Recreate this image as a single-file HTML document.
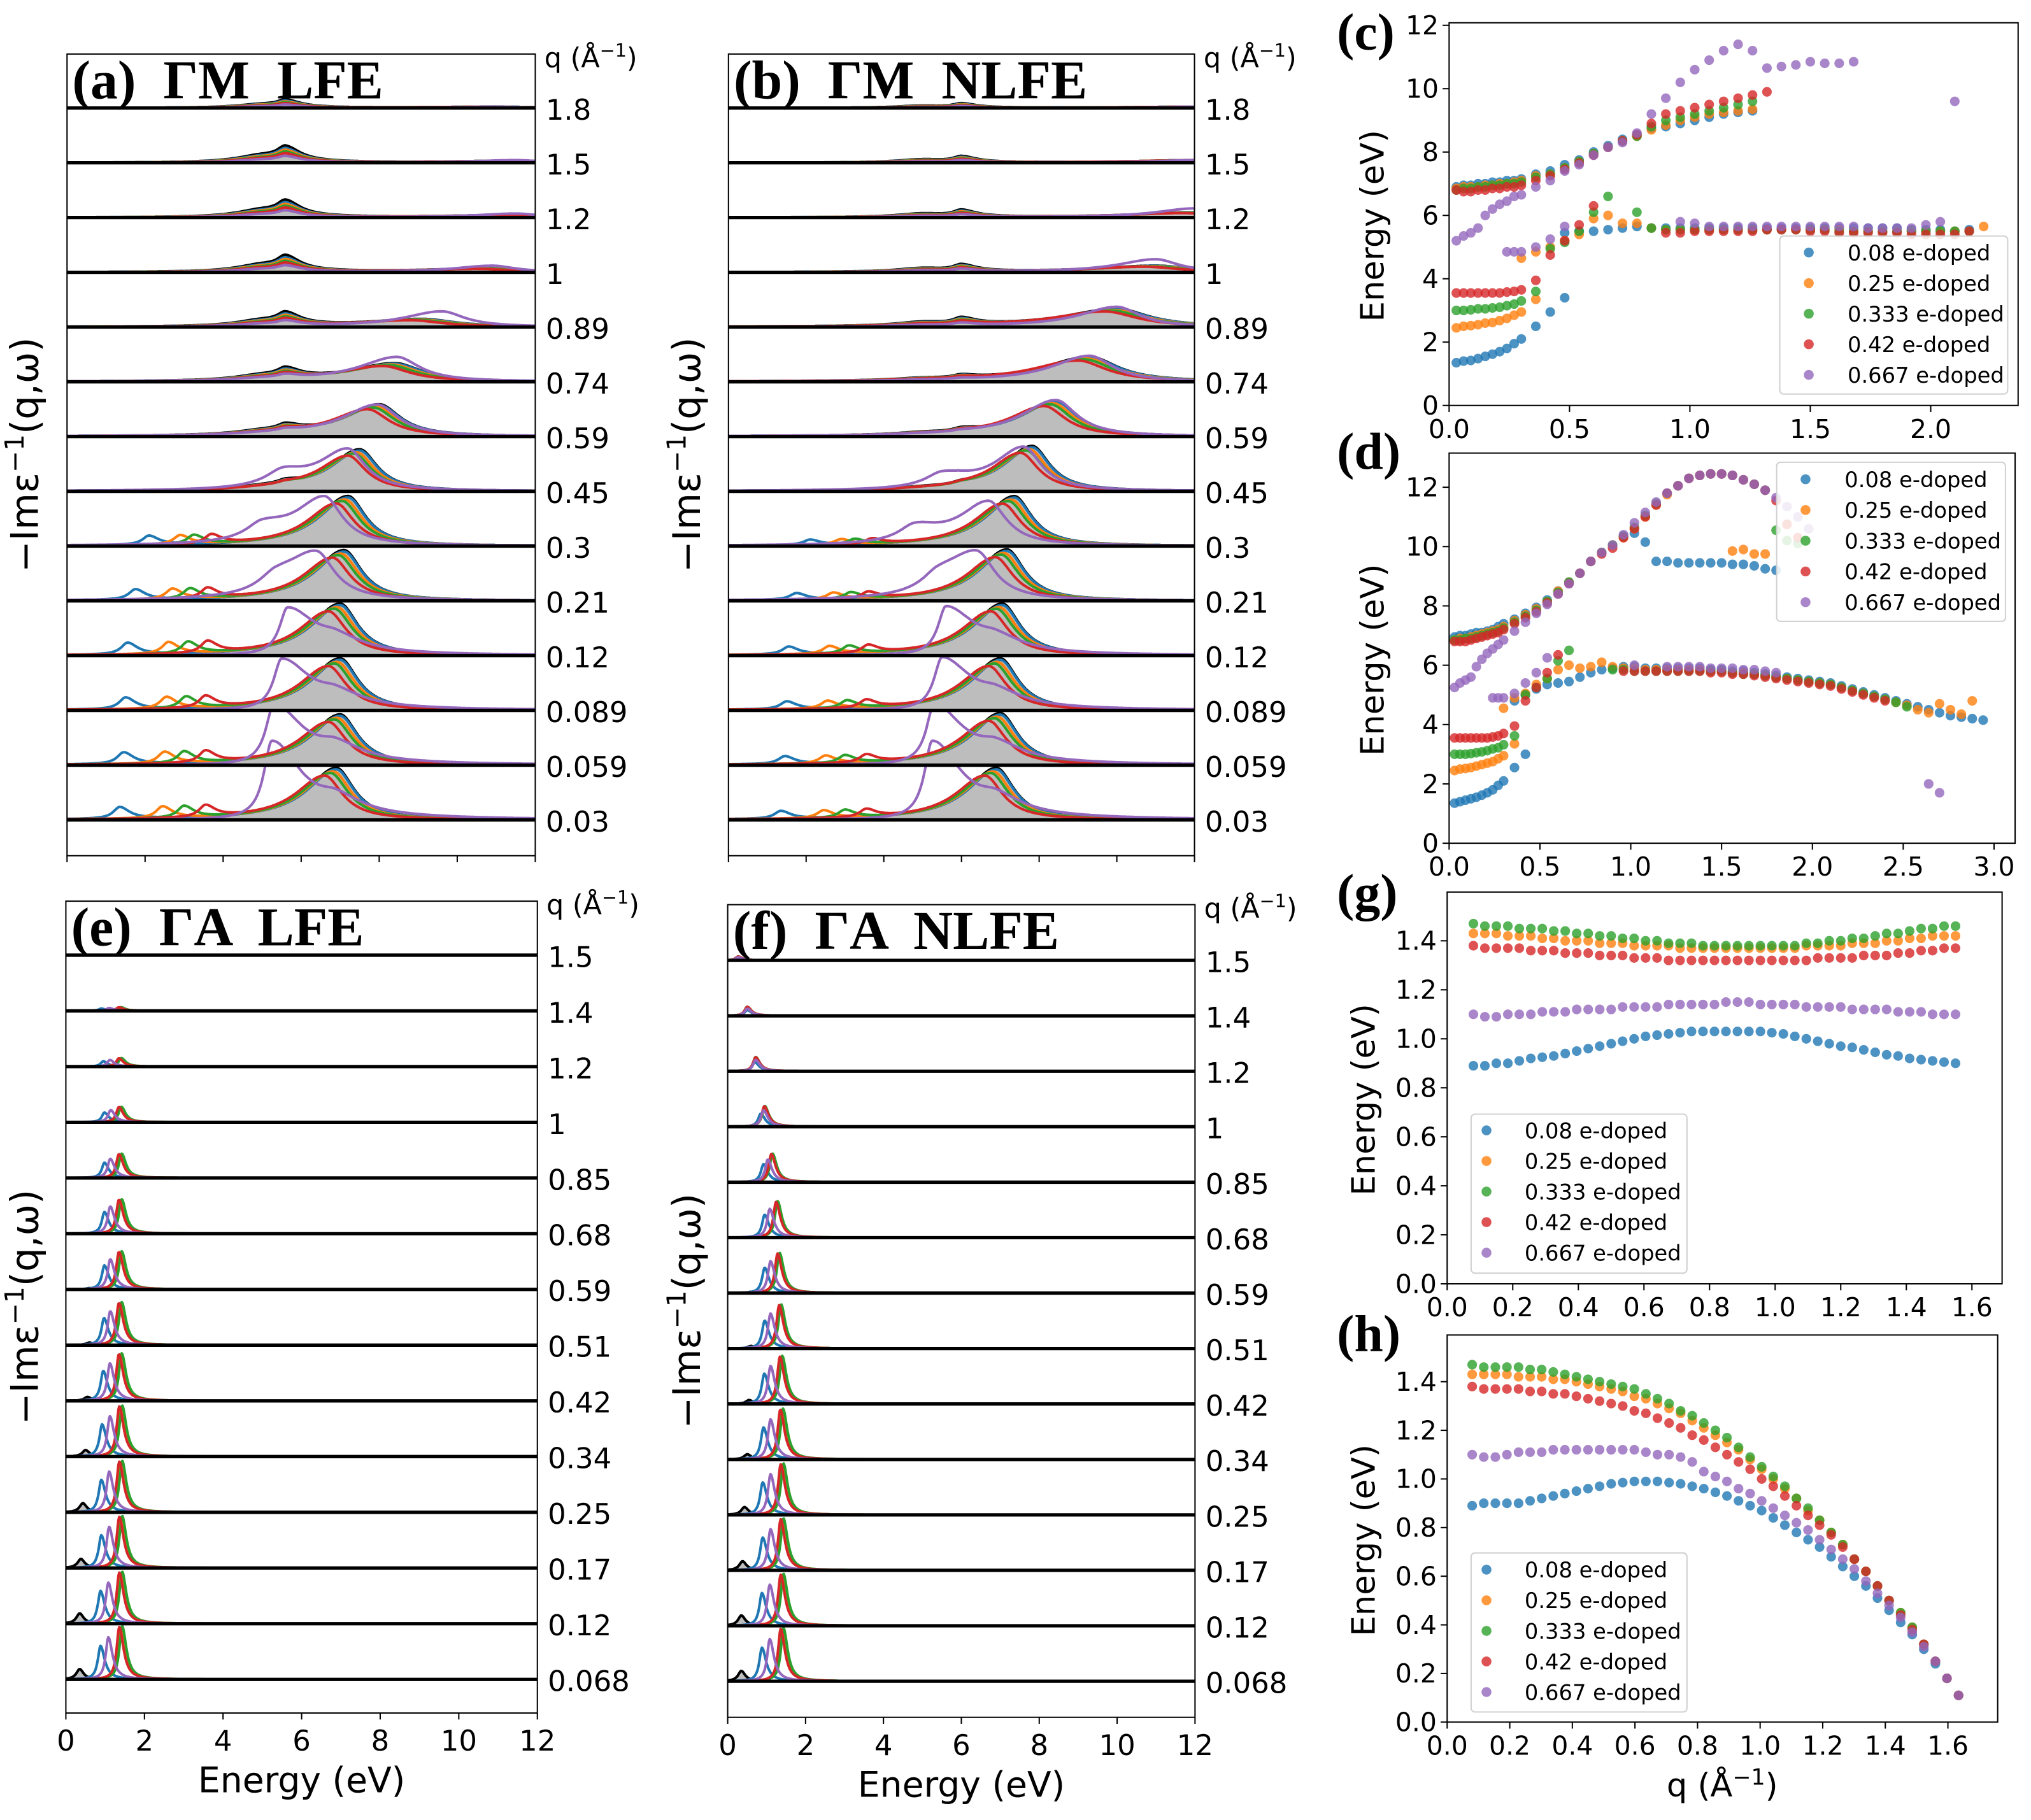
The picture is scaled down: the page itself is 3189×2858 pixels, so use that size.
<!DOCTYPE html>
<html><head><meta charset="utf-8"><title>Loss spectra and plasmon dispersion</title>
<style>
html,body{margin:0;padding:0;background:#fff;}
svg{display:block;}
text{font-family:"DejaVu Sans","Liberation Sans",sans-serif;fill:#000;}
.ttl{font-family:"Liberation Serif",serif;font-weight:bold;white-space:pre;}
</style></head>
<body>
<svg id="fig" xmlns="http://www.w3.org/2000/svg" width="3189" height="2858" viewBox="0 0 1560.2 1398.2" preserveAspectRatio="none"></svg>
<script>
// ---------- shared ----------
const COLORS=['#1f77b4','#ff7f0e','#2ca02c','#d62728','#9467bd'];
const DOPING=['0.08 e-doped','0.25 e-doped','0.333 e-doped','0.42 e-doped','0.667 e-doped'];

// ---------- panel (a) ΓM LFE, rows bottom->top ----------
const aQ=['0.03','0.059','0.089','0.12','0.21','0.3','0.45','0.59','0.74','0.89','1','1.2','1.5','1.8'];
const aMainPos=[6.9,7.0,7.0,7.0,7.1,7.2,7.5,8.0,8.4,9.1,10.8,11.5,11.5,11];
const aMainH=[40,39,40,40,39,38.5,32,24.5,14,6,3,2,1.5,1];
const aWidth=[1,1,1,1,1,1,1,1.2,1.5,1.8,2,2,2,2];
const aBumpH=[0,0,0,0,0,0,5,8,11,13.5,16,16.6,16,8];
const aLowBlue=[1.35,1.45,1.5,1.55,1.75,2.1];
const aLowOrange=[2.45,2.5,2.55,2.6,2.7,2.9];
const aLowGreen=[3.0,3.0,3.05,3.1,3.15,3.25];
const aLowRed=[3.55,3.55,3.55,3.6,3.6,3.7];
const aLowH=[9,9,9,9,8,7];
const aPurplePos=[5.25,5.3,5.5,5.65,6.4,6.6,7.2,7.95,8.45,9.6,10.9,11.5,11.5,11];
const aPurpleH=[60,46,39,36,34,36,31,24.5,19,12,5,3,2,1];
const aPurple2Pos=[6.9,6.9,6.9,6.9,5.35,5.0,5.5];
const aPurple2H=[10,10,8,8,12,12,10];

// ---------- panel (b) ΓM NLFE ----------
const bQ=aQ;
const bMainPos=[6.9,7.0,7.0,7.05,7.17,7.36,7.82,8.43,9.3,10.0,11.0,12,12,12];
const bMainH=[40,40,40,40,39.5,38.4,34.7,27.5,19.2,14,5,4,2,1];
const bWidth=[1,1,1,1,1,1,1,1.2,1.6,1.8,2,2,2,2];
const bBumpH=[0,0,0,0,0,0,3,4,4,8,8,8,7,5];
const bLowH=[6,6,6,6,5,4];
const bPurplePos=[5.25,5.3,5.5,5.6,6.4,6.7,7.6,8.43,9.3,10.0,11.0,12,12,12];
const bPurpleH=[60,46,40,37,34,33,33,28,20,15.5,10,7,2,1];
const bPurple2Pos=[6.9,6.9,6.9,6.9,5.4,4.8,5.5];
const bPurple2H=[10,10,8,8,12,12,10];

// colored main-peak offsets (blue, orange, green, red)
const mainShift=[0,-0.08,-0.15,-0.3];
const mainRel=[0.97,0.93,0.9,0.85];
const bumpRel=[0.85,0.75,0.65,0.55,0.4];

// ---------- panel (e) ΓA LFE ----------
const eQ=['0.068','0.12','0.17','0.25','0.34','0.42','0.51','0.59','0.68','0.85','1','1.2','1.4','1.5'];
const eH=[41,40,40,39.6,39.3,36.5,33,29.3,26.5,18.7,11.9,6.5,2.8,0];
const eBlue=[0.88,0.88,0.9,0.9,0.92,0.95,0.97,0.98,0.98,0.98,0.98,0.95,0.9,0.9];
const eOrange=[1.39,1.39,1.39,1.39,1.39,1.38,1.38,1.38,1.38,1.38,1.38,1.38,1.38,1.38];
const eGreen=[1.43,1.43,1.43,1.43,1.43,1.42,1.42,1.42,1.42,1.42,1.41,1.41,1.4,1.4];
const eRed=[1.36,1.36,1.36,1.36,1.36,1.35,1.35,1.35,1.35,1.35,1.35,1.35,1.35,1.35];
const ePurple=[1.08,1.08,1.1,1.1,1.12,1.12,1.13,1.13,1.13,1.13,1.14,1.12,1.1,1.1];
const eBlackPos=[0.35,0.35,0.38,0.43,0.5,0.55,0.6,0.6,0.6,0.6,0.6,0.6,0.6,0.6];
const eBlackH=[8,8,7,7,5,3,2,1,0,0,0,0,0,0];

// ---------- panel (f) ΓA NLFE ----------
const fQ=eQ;
const fH=[41,40,40,39.6,39,37,34,31,28,22,16,11,7,3];
const fBlue=[0.88,0.88,0.9,0.9,0.92,0.94,0.95,0.95,0.95,0.92,0.85,0.7,0.5,0.27];
const fOrange=[1.39,1.39,1.39,1.39,1.38,1.37,1.35,1.31,1.26,1.14,0.95,0.72,0.5,0.27];
const fGreen=[1.43,1.43,1.43,1.43,1.42,1.4,1.37,1.33,1.28,1.15,0.95,0.72,0.5,0.27];
const fRed=[1.36,1.36,1.36,1.36,1.35,1.34,1.32,1.28,1.24,1.12,0.94,0.72,0.5,0.27];
const fPurple=[1.08,1.08,1.1,1.1,1.1,1.1,1.1,1.1,1.08,1.03,0.92,0.72,0.5,0.27];
const fBlackPos=[0.35,0.35,0.38,0.43,0.5,0.55,0.6,0.6,0.6,0.6,0.6,0.6,0.6,0.6];
const fBlackH=[8,8,7,6,4,3,2,1,0,0,0,0,0,0];
const efRel=[0.63,0.95,1,0.98,0.79];

// ---------- panel (c) ----------
const cQ=[0.03,0.06,0.09,0.12,0.15,0.18,0.21,0.24,0.27,0.30,0.36,0.42,0.48,0.54,0.60,0.66,0.72,0.78,0.84,0.90,0.96,1.02,1.08,1.14,1.20,1.26,1.32,1.38,1.44,1.50,1.56,1.62,1.68,1.74,1.80,1.86,1.92,1.98,2.04,2.10,2.16,2.22];
const N=null;
const cHiBlue=[6.9,6.95,6.95,7.0,7.0,7.05,7.05,7.1,7.1,7.15,7.3,7.4,7.6,7.75,8.0,8.2,8.4,8.55,8.75,8.8,8.9,9.0,9.1,9.2,9.25,9.3];
const cHiOrange=[6.85,6.9,6.9,6.9,6.95,6.95,7.0,7.0,7.05,7.1,7.25,7.3,7.5,7.7,7.95,8.15,8.35,8.5,8.7,8.85,9.0,9.1,9.2,9.25,9.3,9.35];
const cHiGreen=[6.8,6.85,6.85,6.9,6.9,6.95,6.95,7.0,7.0,7.05,7.2,7.3,7.5,7.7,7.95,8.15,8.35,8.5,8.8,9.0,9.1,9.2,9.3,9.4,9.5,9.6];
const cHiRed=[6.8,6.75,6.75,6.8,6.8,6.85,6.85,6.9,6.9,6.95,7.1,7.25,7.45,7.65,7.9,8.15,8.35,8.55,8.9,9.2,9.3,9.4,9.5,9.6,9.7,9.8,9.9];
const cHiPurple=[5.2,5.35,5.45,5.6,6.0,6.2,6.35,6.45,6.6,6.65,6.9,7.1,7.4,7.6,7.9,8.15,8.3,8.6,9.2,9.7,10.2,10.6,10.9,11.2,11.4,11.2,10.65,10.7,10.75,10.85,10.8,10.8,10.85,N,N,N,N,N,N,9.6];
const cLoBlue=[1.35,1.4,1.42,1.48,1.55,1.62,1.7,1.8,1.95,2.1,2.5,2.95,3.4];
const cLoOrange=[2.45,2.5,2.52,2.55,2.6,2.62,2.68,2.75,2.85,2.95,3.35];
const cLoGreen=[3.0,3.0,3.02,3.05,3.05,3.08,3.1,3.15,3.2,3.3,3.6];
const cLoRed=[3.55,3.55,3.55,3.55,3.55,3.55,3.55,3.58,3.6,3.65,3.95];
const cLoPurple=[];
const cMidBlue=[N,N,N,N,N,N,N,N,N,N,N,N,5.45,5.5,5.5,5.55,5.6,5.65,5.6,5.6,5.6,5.6,5.6,5.6,5.6,5.6,5.6,5.6,5.6,5.6,5.6,5.6,5.6,5.6,5.6,5.6,5.55,5.55,5.55,5.5,5.55];
const cMidOrange=[N,N,N,N,N,N,N,N,N,4.65,4.85,5.0,5.2,5.4,5.9,6.0,5.75,5.75,5.6,5.55,5.55,5.55,5.55,5.55,5.55,5.55,5.55,5.55,5.55,5.55,5.55,5.55,5.5,5.5,5.5,5.5,5.5,5.5,5.5,5.5,5.5,5.65];
const cMidGreen=[N,N,N,N,N,N,N,N,N,N,N,4.95,5.15,5.5,6.1,6.6,N,6.1,5.6,5.55,5.55,5.55,5.55,5.55,5.55,5.55,5.55,5.55,5.55,5.55,5.55,5.5,5.5,5.5,5.5,5.5,5.5,5.5,5.5,5.5,5.5];
const cMidRed=[N,N,N,N,N,N,N,N,N,N,N,4.75,5.2,5.7,6.3,N,N,N,N,5.45,5.45,5.5,5.5,5.5,5.5,5.5,5.55,5.55,5.55,5.5,5.5,5.45,5.45,5.45,5.45,5.45,5.4,5.4,5.4,5.4,5.5];
const cMidPurple=[N,N,N,N,N,N,N,4.85,4.85,4.85,5.0,5.25,5.65,N,N,N,N,N,N,N,5.8,5.75,5.65,5.65,5.65,5.65,5.65,5.65,5.65,5.65,5.65,5.65,5.65,5.6,5.6,5.6,5.6,5.7,5.8];

// ---------- panel (d) ----------
const dQ=[0.03,0.06,0.09,0.12,0.15,0.18,0.21,0.24,0.27,0.30,0.36,0.42,0.48,0.54,0.60,0.66,0.72,0.78,0.84,0.90,0.96,1.02,1.08,1.14,1.20,1.26,1.32,1.38,1.44,1.50,1.56,1.62,1.68,1.74,1.80,1.86,1.92,1.98,2.04,2.10,2.16,2.22,2.28,2.34,2.40,2.46,2.52,2.58,2.64,2.70,2.76,2.82,2.88,2.94];
const dHiBlue=[6.95,7.0,7.0,7.05,7.1,7.1,7.15,7.2,7.3,7.4,7.55,7.75,7.95,8.2,8.5,8.8,9.1,9.5,9.8,10.05,10.35,10.45,10.15,9.5,9.5,9.45,9.45,9.45,9.45,9.45,9.4,9.4,9.35,9.25,9.2];
const dHiOrange=[6.85,6.9,6.9,6.95,7.0,7.05,7.1,7.15,7.2,7.3,7.5,7.7,7.9,8.15,8.5,8.8,9.1,9.5,9.8,10.05,10.3,10.6,11.0,11.4,11.75,12.05,12.3,12.4,12.45,12.45,9.85,9.9,9.75,9.75,N,10.75,10.3];
const dHiGreen=[6.85,6.85,6.9,6.9,6.95,7.0,7.05,7.1,7.15,7.25,7.45,7.65,7.85,8.15,8.45,8.8,9.1,9.5,9.8,10.05,10.35,10.65,11.05,11.45,11.8,12.05,12.3,12.4,12.45,12.45,12.4,12.25,12.1,11.9,10.55,10.2,10.1];
const dHiRed=[6.8,6.8,6.8,6.85,6.9,6.95,7.0,7.05,7.1,7.2,7.4,7.6,7.8,8.1,8.4,8.75,9.1,9.5,9.75,9.95,10.3,10.6,11.0,11.4,11.8,12.05,12.3,12.4,12.45,12.45,12.4,12.25,12.1,11.9,11.55,10.75,10.3];
const dHiPurple=[5.25,5.4,5.5,5.6,5.95,6.2,6.4,6.55,6.7,6.85,7.15,7.45,7.75,8.05,8.4,8.75,9.1,9.5,9.8,10.05,10.4,10.8,11.15,11.5,11.8,12.05,12.3,12.4,12.45,12.45,12.4,12.25,12.1,11.9,11.65,11.35,11.0,10.6];
const dLoBlue=[1.35,1.4,1.45,1.5,1.55,1.62,1.7,1.8,1.95,2.1,2.55,3.0];
const dLoOrange=[2.45,2.5,2.52,2.55,2.6,2.65,2.7,2.75,2.85,2.95,3.35];
const dLoGreen=[3.0,3.0,3.0,3.02,3.05,3.08,3.12,3.18,3.22,3.32,3.62];
const dLoRed=[3.55,3.55,3.55,3.55,3.55,3.55,3.55,3.58,3.62,3.7,3.95];
const dLoPurple=[N,N,N,N,N,N,N,N,N,N,N,N,N,N,N,N,N,N,N,N,N,N,N,N,N,N,N,N,N,N,N,N,N,N,N,N,N,N,N,N,N,N,N,N,N,N,N,N,2.0,1.7];
const dMidBlue=[N,N,N,N,N,N,N,N,N,N,4.8,5.0,5.2,5.35,5.4,5.45,5.6,5.75,5.85,5.9,5.95,5.95,5.9,5.9,5.9,5.9,5.9,5.9,5.85,5.85,5.8,5.8,5.75,5.7,5.65,5.6,5.55,5.5,5.45,5.4,5.3,5.2,5.1,5.0,4.9,4.8,4.7,4.6,4.5,4.4,4.3,4.25,4.2,4.15];
const dMidOrange=[N,N,N,N,N,N,N,N,N,4.55,4.9,5.05,5.35,5.55,5.85,6.0,5.9,5.95,6.1,5.95,5.9,5.9,5.85,5.85,5.85,5.85,5.85,5.85,5.8,5.8,5.75,5.75,5.7,5.65,5.6,5.55,5.5,5.45,5.4,5.35,5.25,5.15,5.05,4.95,4.85,4.75,4.65,4.5,4.4,4.7,4.5,4.35,4.8];
const dMidGreen=[N,N,N,N,N,N,N,N,N,N,N,5.0,5.25,5.55,6.15,6.5,N,N,N,5.85,5.85,5.8,5.8,5.8,5.8,5.8,5.8,5.8,5.8,5.8,5.75,5.7,5.7,5.65,5.6,5.55,5.5,5.45,5.4,5.35,5.25,5.15,5.05,4.95,4.85,4.75,4.6];
const dMidRed=[N,N,N,N,N,N,N,N,N,N,N,4.8,5.25,5.75,6.35,N,N,N,N,N,5.8,5.8,5.8,5.8,5.8,5.8,5.8,5.8,5.75,5.75,5.7,5.7,5.65,5.6,5.55,5.5,5.45,5.4,5.35,5.3,5.2,5.1,5.0,4.9,4.8];
const dMidPurple=[N,N,N,N,N,N,N,4.9,4.9,4.9,5.05,5.4,5.75,6.25,N,N,N,N,N,N,N,6.0,N,N,5.95,5.95,5.95,5.95,5.9,5.9,5.9,5.85,5.85,5.8,5.75];

// ---------- panel (g) ----------
const gQ=[0.08,0.115,0.15,0.185,0.22,0.255,0.29,0.325,0.36,0.395,0.43,0.465,0.5,0.535,0.57,0.605,0.64,0.675,0.71,0.745,0.78,0.815,0.85,0.885,0.92,0.955,0.99,1.025,1.06,1.095,1.13,1.165,1.2,1.235,1.27,1.305,1.34,1.375,1.41,1.445,1.48,1.515,1.55];
const gBlue=[0.89,0.89,0.90,0.90,0.91,0.92,0.925,0.93,0.94,0.95,0.96,0.97,0.98,0.99,1.0,1.01,1.015,1.02,1.025,1.03,1.03,1.03,1.03,1.03,1.03,1.03,1.025,1.02,1.01,1.0,0.99,0.98,0.97,0.965,0.955,0.945,0.935,0.93,0.92,0.915,0.91,0.905,0.90];
const gOrange=[1.43,1.43,1.43,1.42,1.42,1.42,1.41,1.41,1.40,1.40,1.40,1.39,1.39,1.39,1.38,1.38,1.38,1.38,1.37,1.37,1.37,1.37,1.37,1.37,1.37,1.37,1.37,1.37,1.37,1.38,1.38,1.38,1.38,1.39,1.39,1.39,1.40,1.40,1.41,1.41,1.42,1.42,1.42];
const gGreen=[1.47,1.46,1.46,1.46,1.45,1.45,1.45,1.44,1.44,1.43,1.43,1.42,1.42,1.41,1.41,1.40,1.40,1.39,1.39,1.39,1.38,1.38,1.38,1.38,1.38,1.38,1.38,1.38,1.38,1.39,1.39,1.40,1.40,1.41,1.41,1.42,1.43,1.43,1.44,1.45,1.45,1.46,1.46];
const gRed=[1.38,1.37,1.37,1.37,1.37,1.36,1.36,1.36,1.35,1.35,1.35,1.34,1.34,1.34,1.33,1.33,1.33,1.32,1.32,1.32,1.32,1.32,1.32,1.32,1.32,1.32,1.32,1.32,1.32,1.32,1.33,1.33,1.33,1.33,1.34,1.34,1.34,1.35,1.35,1.36,1.36,1.37,1.37];
const gPurple=[1.10,1.09,1.09,1.10,1.10,1.10,1.11,1.11,1.11,1.12,1.12,1.12,1.12,1.13,1.13,1.13,1.13,1.14,1.14,1.14,1.14,1.14,1.15,1.15,1.15,1.14,1.14,1.14,1.14,1.13,1.13,1.13,1.13,1.12,1.12,1.12,1.12,1.11,1.11,1.11,1.10,1.10,1.10];

// ---------- panel (h) ----------
const hQ=[0.08,0.117,0.154,0.191,0.228,0.265,0.302,0.339,0.376,0.413,0.45,0.487,0.524,0.561,0.598,0.635,0.672,0.709,0.746,0.783,0.82,0.857,0.894,0.931,0.968,1.005,1.042,1.079,1.116,1.153,1.19,1.227,1.264,1.301,1.338,1.375,1.412,1.449,1.486,1.523,1.56,1.597,1.634];
const hBlue=[0.89,0.90,0.90,0.90,0.90,0.91,0.92,0.93,0.94,0.95,0.96,0.97,0.98,0.985,0.99,0.99,0.99,0.985,0.98,0.97,0.96,0.945,0.93,0.91,0.89,0.87,0.84,0.81,0.78,0.75,0.72,0.68,0.64,0.60,0.56,0.51,0.46,0.41,0.36,0.30,0.24,0.18,0.11];
const hOrange=[1.43,1.43,1.43,1.43,1.42,1.42,1.42,1.41,1.41,1.40,1.39,1.38,1.37,1.36,1.34,1.33,1.31,1.29,1.27,1.24,1.21,1.18,1.15,1.12,1.08,1.04,1.00,0.96,0.92,0.87,0.83,0.78,0.73,0.67,0.62,0.56,0.50,0.45,0.39,0.32,0.25,0.18,0.11];
const hGreen=[1.47,1.46,1.46,1.46,1.46,1.45,1.45,1.44,1.43,1.42,1.41,1.40,1.39,1.38,1.37,1.35,1.33,1.31,1.28,1.26,1.23,1.20,1.17,1.13,1.09,1.05,1.01,0.97,0.92,0.88,0.83,0.78,0.73,0.67,0.62,0.56,0.50,0.45,0.39,0.32,0.25,0.18,0.11];
const hRed=[1.38,1.37,1.37,1.37,1.37,1.36,1.36,1.35,1.35,1.34,1.33,1.32,1.31,1.30,1.28,1.27,1.25,1.23,1.21,1.18,1.16,1.13,1.10,1.07,1.04,1.00,0.97,0.93,0.89,0.85,0.81,0.77,0.72,0.67,0.62,0.56,0.50,0.44,0.38,0.32,0.25,0.18,0.11];
const hPurple=[1.10,1.09,1.09,1.10,1.11,1.11,1.11,1.12,1.12,1.12,1.12,1.12,1.12,1.12,1.12,1.11,1.10,1.10,1.09,1.07,1.03,1.01,0.99,0.96,0.94,0.91,0.88,0.85,0.82,0.79,0.75,0.71,0.67,0.63,0.58,0.53,0.48,0.43,0.37,0.31,0.25,0.18,0.11];

// ================= drawing =================
const NS='http://www.w3.org/2000/svg';
const svg=document.getElementById('fig');
function mk(tag,attrs,parent){const e=document.createElementNS(NS,tag);for(const k in attrs)e.setAttribute(k,attrs[k]);(parent||svg).appendChild(e);return e;}
function txt(parent,x,y,s,size,anchor,extra){const t=mk('text',Object.assign({x:x,y:y,'font-size':size,'text-anchor':anchor||'start'},extra||{}),parent);t.textContent=s;return t;}
function lor(x,p,h,gl,gr){if(p==null||!h)return 0;const g=x<p?gl:gr;const d=(x-p)/g;return h/(1+d*d);}
const XS=[];for(let i=0;i<=600;i++)XS.push(i*0.02);
let clipId=0;

function qLabelHeader(g,x,y){
  const t=mk('text',{x:x,y:y,'font-size':21},g);
  
  
  t.innerHTML='q (Å<tspan dy="-8" font-size="14">−1</tspan><tspan dy="8">)</tspan>';
}
function yLabelSpectra(g,x,y){
  const t=mk('text',{x:x,y:y,'font-size':29,'text-anchor':'middle',transform:'rotate(-90 '+x+' '+y+')'},g);
  
  
  t.innerHTML='−Imε<tspan dy="-11" font-size="20">−1</tspan><tspan dy="11">(q,ω)</tspan>';
}

function spectraPanel(cfg){
  const g=mk('g',{});
  
  
  const sx=v=>cfg.x0+v/12*(cfg.x1-cfg.x0);
  const cid='clip'+(clipId++);
  const cp=mk('clipPath',{id:cid},g);
  mk('rect',{x:cfg.x0,y:cfg.top,width:cfg.x1-cfg.x0,height:cfg.bottom-cfg.top},cp);
  const plot=mk('g',{'clip-path':'url(#'+cid+')'},g);
  const n=cfg.q.length;
  for(let i=0;i<n;i++){
    const base=cfg.base0-i*cfg.step;
    const row=mk('g',{},plot);
    
    
    const curves=cfg.curves(i);
    curves.forEach((peaks,k)=>{
      let d='';
      XS.forEach((x,j)=>{let y=0;peaks.forEach(p=>{y+=lor(x,p[0],p[1],p[2],p[3]);});d+=(j?'L':'M')+sx(x).toFixed(1)+' '+(base-y).toFixed(1);});
      if(k===0){
        const f=mk('path',{d:d+'L'+sx(12)+' '+base+'L'+sx(0)+' '+base+'Z',fill:'#bdbdbd',stroke:'none'},row);
        
        
      }
      const l=mk('path',{d:d,fill:'none',stroke:k===0?'#000':COLORS[k-1],'stroke-width':2,'stroke-linejoin':'round'},row);
      
      
    });
    const bl=mk('line',{x1:cfg.x0,x2:cfg.x1,y1:base,y2:base,stroke:'#000','stroke-width':2.6},plot);
    
    
    const lb=txt(g,cfg.x1+8,base+9,cfg.q[i],22);
    
    
  }
  const fr=mk('rect',{x:cfg.x0,y:cfg.top,width:cfg.x1-cfg.x0,height:cfg.bottom-cfg.top,fill:'none',stroke:'#000','stroke-width':1},g);
  
  
  for(let e=0;e<=12;e+=2){
    const tk=mk('line',{x1:sx(e),x2:sx(e),y1:cfg.bottom,y2:cfg.bottom+5,stroke:'#000','stroke-width':1},g);
    
    
    if(cfg.tickLabels){
      const tl=txt(g,sx(e),cfg.bottom+29,String(e),22,'middle');
      
      
    }
  }
  if(cfg.tickLabels){
    const xt=txt(g,(cfg.x0+cfg.x1)/2,cfg.bottom+61,'Energy (eV)',27,'middle');
    
    
  }
  const tt=mk('text',{x:cfg.x0+4,y:cfg.top+34,'font-size':42,class:'ttl'},g);
  
  
  tt.textContent=cfg.title;
  qLabelHeader(g,cfg.x1+7,cfg.top+10);
  yLabelSpectra(g,cfg.ylx,(cfg.top+cfg.bottom)/2);
}

function gmCurves(P){
  return function(i){
    const w=P.width[i];
    const out=[];
    const bump=(rel)=>[[P.bumpPos,P.bumpH[i]*0.6*rel,0.25,0.45],[5.0,P.bumpH[i]*0.35*rel,0.8,0.8]];
    out.push([[P.mainPos[i],P.mainH[i],0.9*w,0.55*w]].concat(bump(1)));
    for(let k=0;k<4;k++){
      const pk=[[P.mainPos[i]+mainShift[k],P.mainH[i]*mainRel[k],0.9*w,0.55*w]].concat(bump(bumpRel[k]));
      const lp=P.low[k][i];
      if(lp!=null&&P.lowH[i])pk.push([lp,P.lowH[i],0.2,0.3]);
      out.push(pk);
    }
    const sharp=i<4;
    const pw=Math.min(w,1.3);
    const pp=[[P.purplePos[i],P.purpleH[i],sharp?0.25:0.9*pw,sharp?0.9:0.55*pw]].concat(bump(bumpRel[4]));
    if(P.p2Pos[i]!=null)pp.push([P.p2Pos[i],P.p2H[i],0.5,0.8]);
    out.push(pp);
    return out;
  };
}
function gaCurves(P){
  return function(i){
    const out=[[[P.blackPos[i],P.blackH[i],0.1,0.12]]];
    P.pos.forEach((arr,k)=>{out.push([[arr[i],P.h[i]*efRel[k],0.08,0.13]]);});
    return out;
  };
}

spectraPanel({name:'panel-a-gm-lfe',title:'(a)  ΓM  LFE',q:aQ,x0:51.5,x1:411.2,top:41.5,bottom:657.4,base0:629.9,step:42.07,ylx:29,tickLabels:false,
  curves:gmCurves({width:aWidth,mainPos:aMainPos,mainH:aMainH,bumpPos:5.6,bumpH:aBumpH,low:[aLowBlue,aLowOrange,aLowGreen,aLowRed],lowH:aLowH,purplePos:aPurplePos,purpleH:aPurpleH,p2Pos:aPurple2Pos,p2H:aPurple2H})});
spectraPanel({name:'panel-b-gm-nlfe',title:'(b)  ΓM  NLFE',q:bQ,x0:559.6,x1:917.6,top:41.5,bottom:657.4,base0:629.9,step:42.07,ylx:537.6,tickLabels:false,
  curves:gmCurves({width:bWidth,mainPos:bMainPos,mainH:bMainH,bumpPos:6.0,bumpH:bBumpH,low:[aLowBlue,aLowOrange,aLowGreen,aLowRed],lowH:bLowH,purplePos:bPurplePos,purpleH:bPurpleH,p2Pos:bPurple2Pos,p2H:bPurple2H})});
spectraPanel({name:'panel-e-ga-lfe',title:'(e)  ΓA  LFE',q:eQ,x0:50.6,x1:412.8,top:692.3,bottom:1316,base0:1290.2,step:42.8,ylx:29,tickLabels:true,
  curves:gaCurves({blackPos:eBlackPos,blackH:eBlackH,pos:[eBlue,eOrange,eGreen,eRed,ePurple],h:eH})});
spectraPanel({name:'panel-f-ga-nlfe',title:'(f)  ΓA  NLFE',q:fQ,x0:559,x1:918,top:695,bottom:1319.3,base0:1291.6,step:42.6,ylx:537.6,tickLabels:true,
  curves:gaCurves({blackPos:fBlackPos,blackH:fBlackH,pos:[fBlue,fOrange,fGreen,fRed,fPurple],h:fH})});

// ---------- scatter panels ----------
function scatterPanel(cfg){
  const g=mk('g',{});
  
  
  const sx=v=>cfg.x0+(v-cfg.xr[0])/(cfg.xr[1]-cfg.xr[0])*(cfg.x1-cfg.x0);
  const sy=v=>cfg.bottom-(v-cfg.yr[0])/(cfg.yr[1]-cfg.yr[0])*(cfg.bottom-cfg.top);
  cfg.series.forEach((branches,k)=>{
    const sg=mk('g',{fill:COLORS[k],'fill-opacity':0.8},g);
    
    
    branches.forEach(arr=>{
      arr.forEach((v,i)=>{
        if(v==null||cfg.q[i]==null)return;
        const c=mk('circle',{cx:sx(cfg.q[i]).toFixed(2),cy:sy(v).toFixed(2),r:3.7},sg);
        
        
      });
    });
  });
  const fr=mk('rect',{x:cfg.x0,y:cfg.top,width:cfg.x1-cfg.x0,height:cfg.bottom-cfg.top,fill:'none',stroke:'#000','stroke-width':1},g);
  
  
  cfg.xt.forEach(v=>{
    const tk=mk('line',{x1:sx(v),x2:sx(v),y1:cfg.bottom,y2:cfg.bottom+5,stroke:'#000','stroke-width':1},g);
    
    
    const tl=txt(g,sx(v),cfg.bottom+25,v.toFixed(1),20,'middle');
    
    
  });
  cfg.yt.forEach(v=>{
    const tk=mk('line',{x1:cfg.x0-5,x2:cfg.x0,y1:sy(v),y2:sy(v),stroke:'#000','stroke-width':1},g);
    
    
    const tl=txt(g,cfg.x0-8,sy(v)+7,cfg.yfmt(v),20,'end');
    
    
  });
  const cy=(cfg.top+cfg.bottom)/2+9;
  const yl=txt(g,cfg.ylx,cy,'Energy (eV)',25,'middle',{transform:'rotate(-90 '+cfg.ylx+' '+cy+')'});
  
  
  const pl=mk('text',{x:1027,y:cfg.labelY,'font-size':40,class:'ttl'},g);
  
  
  pl.textContent=cfg.label;
  const L=cfg.legend;
  const lg=mk('g',{},g);
  
  
  mk('rect',{x:L.x0,y:L.y0,width:L.x1-L.x0,height:L.y1-L.y0,rx:3,fill:'#fff','fill-opacity':0.85,stroke:'#d0d0d0','stroke-width':1},lg);
  DOPING.forEach((d,k)=>{
    const y=L.rows[0]+k*(L.rows[1]-L.rows[0]);
    const e=mk('g',{},lg);
    
    
    mk('circle',{cx:L.mx,cy:y,r:3.8,fill:COLORS[k],'fill-opacity':0.8},e);
    txt(e,L.tx,y+6,d,16.5);
  });
}
const rng=(a,b,s)=>{const r=[];for(let v=a;v<=b+1e-9;v+=s)r.push(Math.round(v*10)/10);return r;};
scatterPanel({name:'panel-c',label:'(c)',labelY:38,q:cQ,x0:1113.2,x1:1550.3,top:17.5,bottom:311.5,xr:[0,2.363],yr:[0,12.08],
  xt:rng(0,2,0.5),yt:rng(0,12,2),yfmt:v=>String(v),ylx:1063,
  series:[[cHiBlue,cLoBlue,cMidBlue],[cHiOrange,cLoOrange,cMidOrange],[cHiGreen,cLoGreen,cMidGreen],[cHiRed,cLoRed,cMidRed],[cHiPurple,cLoPurple,cMidPurple]],
  legend:{x0:1367.2,x1:1542.3,y0:181.3,y1:302.7,rows:[194,217.5],mx:1389.5,tx:1419.3}});
scatterPanel({name:'panel-d',label:'(d)',labelY:360,q:dQ,x0:1113.2,x1:1548,top:348.1,bottom:647.8,xr:[0,3.116],yr:[0,13.15],
  xt:rng(0,3,0.5),yt:rng(0,12,2),yfmt:v=>String(v),ylx:1063,
  series:[[dHiBlue,dLoBlue,dMidBlue],[dHiOrange,dLoOrange,dMidOrange],[dHiGreen,dLoGreen,dMidGreen],[dHiRed,dLoRed,dMidRed],[dHiPurple,dLoPurple,dMidPurple]],
  legend:{x0:1364.8,x1:1540.6,y0:355.1,y1:477.4,rows:[368.2,391.8],mx:1387,tx:1417}});
scatterPanel({name:'panel-g',label:'(g)',labelY:699,q:gQ,x0:1111.7,x1:1538,top:685.3,bottom:986.3,xr:[0,1.692],yr:[0,1.599],
  xt:rng(0,1.6,0.2),yt:rng(0,1.4,0.2),yfmt:v=>v.toFixed(1),ylx:1056,
  series:[[gBlue],[gOrange],[gGreen],[gRed],[gPurple]],
  legend:{x0:1130.1,x1:1295.9,y0:855.9,y1:978.1,rows:[868.4,891.9],mx:1141.9,tx:1171.2}});
scatterPanel({name:'panel-h',label:'(h)',labelY:1038,q:hQ,x0:1111.7,x1:1534.6,top:1025.6,bottom:1323,xr:[0,1.759],yr:[0,1.592],
  xt:rng(0,1.6,0.2),yt:rng(0,1.4,0.2),yfmt:v=>v.toFixed(1),ylx:1056,
  series:[[hBlue],[hOrange],[hGreen],[hRed],[hPurple]],
  legend:{x0:1130.1,x1:1295.9,y0:1193,y1:1315.2,rows:[1205.9,1229.4],mx:1141.9,tx:1171.2}});
const qx=mk('text',{x:1323,y:1380,'font-size':25,'text-anchor':'middle'});


qx.innerHTML='q (Å<tspan dy="-9" font-size="17">−1</tspan><tspan dy="9">)</tspan>';
</script>
</body></html>
